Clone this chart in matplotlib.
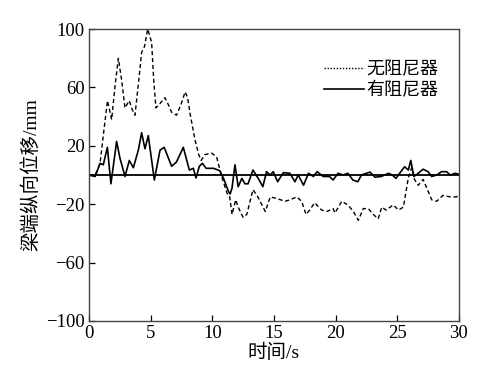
import matplotlib.pyplot as plt
from matplotlib.ticker import FixedLocator

plt.rcParams['font.family'] = ['Liberation Serif', 'Noto Sans CJK SC']

# 无阻尼器
t_nd = [0, 0.5, 0.9, 1.2, 1.5, 1.84, 2.1, 2.38, 2.65, 2.92, 3.27, 3.5, 3.73, 4.0, 4.27, 4.5, 4.76,
        5.08, 5.25, 5.43, 5.76, 6.16, 6.45, 6.7, 7.1, 7.45, 7.8, 8.0, 8.2, 8.6, 8.9, 9.1, 9.4,
        9.95, 10.35, 10.76, 11.2, 11.4, 11.6, 11.9, 12.1, 12.5, 12.8, 13.3, 13.7, 14.3, 14.7,
        15.2, 15.9, 16.3, 16.85, 17.25, 17.6, 17.9, 18.3, 18.87, 19.3, 19.8, 19.95, 20.5, 21.0,
        21.44, 21.85, 22.25, 22.65, 23.06, 23.46, 23.74, 24.1, 24.68, 25.1, 25.5, 25.9, 26.17,
        26.4, 26.7, 27.1, 27.5, 27.8, 28.2, 28.7, 29.3, 29.8, 30]
y_nd = [0, 0, 8, 30, 51, 38, 60, 80, 65, 46, 51, 45, 41, 62, 84, 88, 100,
        91, 65, 46, 49, 53, 48, 43, 41, 48, 57, 53, 42, 24, 14, 10, 14,
        15, 12.5, -1, -12.5, -14, -27, -17, -22, -29, -27, -10, -15, -25, -15,
        -16, -18, -17, -15, -18, -27, -24, -19, -24, -25, -23, -26, -18, -20.5,
        -25, -31, -23, -23, -27, -30, -22, -24, -20.5, -24, -22, -2, 5,
        -3, -7, -3, -11, -17, -18, -14, -15, -15, -14]

# 有阻尼器
t_d = [0, 0.5, 0.9, 1.16, 1.49, 1.78, 2.24, 2.5, 2.92, 3.27, 3.6, 4.0, 4.27, 4.54, 4.81, 5.3,
       5.76, 6.1, 6.7, 7.1, 7.65, 8.14, 8.46, 8.68, 8.95, 9.2, 9.5, 10.1, 10.6, 10.9, 11.3,
       11.45, 11.6, 11.84, 12.1, 12.4, 12.65, 12.9, 13.3, 13.73, 14.1, 14.4, 14.7, 14.95, 15.3,
       15.76, 16.3, 16.7, 16.97, 17.4, 17.8, 18.2, 18.5, 19.0, 19.5, 19.8, 20.2, 20.6, 21.0,
       21.4, 21.8, 22.1, 22.5, 22.8, 23.2, 23.7, 24.3, 24.6, 24.9, 25.2, 25.6, 25.9, 26.1,
       26.35, 26.7, 27.1, 27.5, 27.8, 28.2, 28.6, 29.0, 29.3, 29.7, 30]
y_d = [0, -1, 8, 7, 19, -6, 23, 12, -1, 10, 5, 17, 29, 18, 27, -3.4,
       17, 19, 6, 9, 19, 3.4, 4.6, -2, 6, 8, 4.6, 4.6, 3, -2, -11,
       -13, -9, 7, -8, -2.3, -6, -6, 3.4, -2.3, -8, 2.3, 0, 2.3, -4.6,
       1.6, 1.2, -4.6, 0, -7, 1.2, -1, 2.3, -1, -1, -3.4, 1.2, 0, 1.2,
       -3.4, -4.6, 0, 1.2, 2, -1.5, -1, 1.2, 0, -2.3, 1.2, 5.7, 3.4, 10,
       -1, 1.2, 4, 2.3, -1, 0, 2.3, 2.3, 0, 1.2, 0.5]

yticks = [-100, -60, -20, 20, 60, 100]
xticks = [0, 5, 10, 15, 20, 25, 30]

fig = plt.figure(figsize=(4.81, 3.83), dpi=100)
ax = fig.add_axes([0.185, 0.162, 0.769, 0.762])

ax.axhline(0, color='black', lw=1.3)
ax.plot(t_nd, y_nd, color='black', lw=1.0, ls=(0, (3, 2)), label='无阻尼器')
ax.plot(t_d, y_d, color='black', lw=1.2, label='有阻尼器')

ax.set_xlim(0, 30)
ax.set_ylim(-100, 100)
ax.set_xticks(xticks)
ax.set_yticks(yticks)
ax.yaxis.set_minor_locator(FixedLocator([0]))
ax.tick_params(direction='in', length=4, width=0.9, labelsize=13.5, colors='black', pad=3)
ax.tick_params(which='minor', direction='in', length=4, width=0.9)
for s in ax.spines.values():
    s.set_color('#444444')
    s.set_linewidth(1.0)

ax.set_xlabel('时间/s', fontsize=14, labelpad=1)
ax.set_ylabel('梁端纵向位移/mm', fontsize=14, labelpad=4)

leg = ax.legend(loc='upper right', frameon=False, fontsize=13, handlelength=2.2,
                handletextpad=0.15, labelspacing=0.25, borderaxespad=0,
                bbox_to_anchor=(0.965, 0.915))
leg.get_lines()[0].set_linestyle((0, (1, 1.2)))

plt.savefig('out.png', dpi=100)
